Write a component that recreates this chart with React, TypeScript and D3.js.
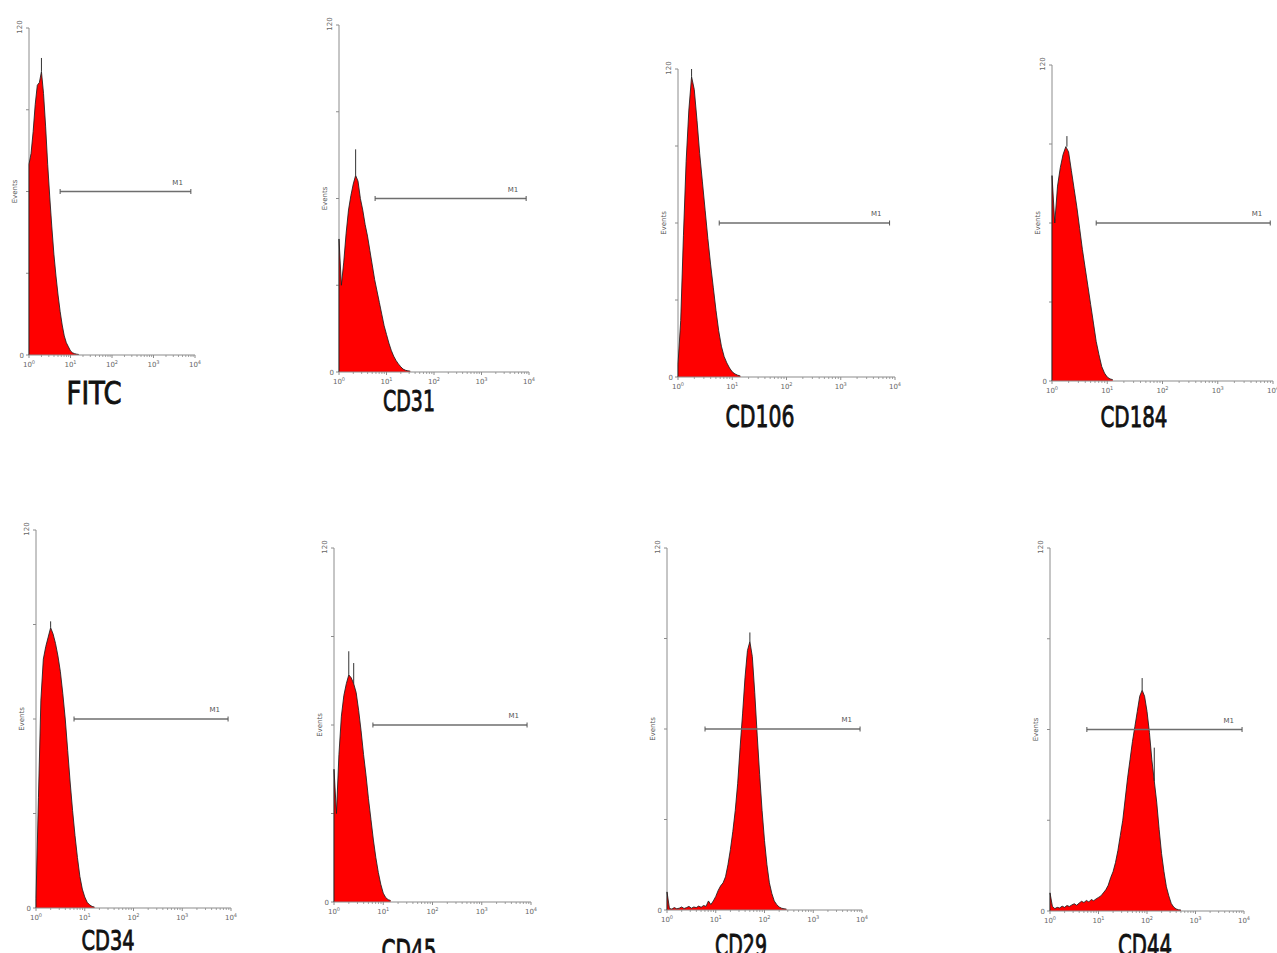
import React from 'react';
import * as d3 from 'd3';

// histogram channels: one bin every 0.05 decade, starting at 10^0
const BIN_STEP = 0.05;

const markers = ['FITC', 'CD31', 'CD106', 'CD184', 'CD34', 'CD45', 'CD29', 'CD44'];

const fitcCounts = [70, 74, 82, 92, 99, 100, 104, 96, 84, 70, 58, 47, 37, 29, 22, 16, 11, 7, 4.5, 3, 1.5, 0.8, 0.5, 0.3, 0.2];
const cd31Counts = [46, 30, 38, 48, 56, 61, 65, 68, 66, 60, 56, 51, 47, 42, 37, 32, 28, 24, 20, 16, 13, 10, 7.5, 5.5, 4, 2.8, 1.8, 1, 0.6, 0.4, 0.3];
const cd106Counts = [5, 22, 55, 84, 104, 117, 112, 100, 87, 76, 65, 54, 44, 35, 26, 18, 12, 8, 5.5, 3.5, 2, 1.2, 0.7, 0.4];
const cd184Counts = [78, 60, 74, 81, 86, 89, 87, 80, 73, 66, 58, 50, 43, 36, 29, 22, 15, 10, 5.5, 3, 1.5, 0.8, 0.5];
const cd34Counts = [3, 35, 66, 79, 83, 86, 89, 87, 84, 80, 75, 68, 60, 50, 40, 31, 23, 16, 10, 6, 3.5, 1.8, 1, 0.5, 0.3];
const cd45Counts = [45, 30, 50, 63, 70, 74, 77, 76, 74, 71, 65, 58, 50, 43, 35, 28, 21, 15, 10, 6, 3, 1.5, 0.8, 0.5];
const cd29Counts = [6, 0.5, 0.3, 0.8, 0.4, 0.6, 1, 0.5, 0.8, 1.2, 0.6, 1, 0.8, 1.3, 0.9, 1.5, 1.2, 3, 1.8, 3, 4.5, 6.5, 8, 9, 11, 15, 20, 26, 33, 42, 54, 65, 77, 86, 89, 84, 72, 58, 45, 33, 23, 15, 9, 5.5, 3, 1.8, 1, 0.6, 0.4, 0.3];
const cd44Counts = [6, 1.5, 0.8, 1.2, 1, 1.6, 1.2, 1.8, 1.5, 2, 2.4, 1.9, 2.6, 3.2, 2.8, 3.5, 3, 3.8, 3.4, 4, 4.5, 5, 6, 7, 8.5, 11, 13, 16, 20, 25, 30, 37, 44, 50, 56, 61, 66, 71, 73, 71, 66, 59, 50, 43, 36, 27, 19, 13, 8, 5, 2.5, 1.3, 0.7, 0.4, 0.3];

const countsByMarker = [fitcCounts, cd31Counts, cd106Counts, cd184Counts, cd34Counts, cd45Counts, cd29Counts, cd44Counts];

// thin spikes of the outline above the fill: [decade, events]
const peakSpikes = [
  [[0.3, 109]],
  [[0.35, 77]],
  [[0.25, 120]],
  [[0.27, 93]],
  [[0.3, 91]],
  [[0.3, 85], [0.4, 81]],
  [[1.7, 92]],
  [[1.9, 77], [2.15, 54]],
];

// M1 gate, in decades
const m1Start = [0.75, 0.76, 0.76, 0.8, 0.78, 0.79, 0.78, 0.76];
const m1End = [3.9, 3.94, 3.9, 3.95, 3.94, 3.92, 3.96, 3.96];
const M1_LEVEL = 60;

const yTicks = [0, 30, 60, 90, 120];
const xDecades = [1, 10, 100, 1000, 10000];
const xExponents = ['0', '1', '2', '3', '4'];

// page layout of each panel (pixels)
const panelBoxes = [
  { x0: 29, x1: 195, top: 28, bottom: 355 },
  { x0: 339, x1: 529, top: 25, bottom: 372 },
  { x0: 678, x1: 895, top: 69, bottom: 377 },
  { x0: 1052, x1: 1273, top: 65, bottom: 381 },
  { x0: 36, x1: 231, top: 530, bottom: 908 },
  { x0: 334, x1: 531, top: 548, bottom: 902 },
  { x0: 667, x1: 862, top: 548, bottom: 910 },
  { x0: 1050, x1: 1244, top: 548, bottom: 911 },
];

const labelBoxes = [
  { cx: 94, y: 404, w: 55, size: 32 },
  { cx: 409, y: 411, w: 52, size: 29 },
  { cx: 760, y: 427, w: 69, size: 31 },
  { cx: 1134, y: 427, w: 67, size: 29 },
  { cx: 108, y: 950, w: 53, size: 27 },
  { cx: 409, y: 961, w: 55, size: 30 },
  { cx: 741, y: 956, w: 52, size: 30 },
  { cx: 1145, y: 956, w: 54, size: 30 },
];

const axisGrey = '#8c8c8c';
const smallFont = 'DejaVu Sans, sans-serif';

function Histogram({ index }) {
  const box = panelBoxes[index];
  const counts = countsByMarker[index];
  const lab = labelBoxes[index];

  const x = d3.scaleLog().domain([1, 10000]).range([box.x0, box.x1]);
  const y = d3.scaleLinear().domain([0, 120]).range([box.bottom, box.top]);

  const pts = counts.map((v, i) => [Math.pow(10, i * BIN_STEP), v]);
  const area = d3.area().x(d => x(d[0])).y0(y(0)).y1(d => y(d[1]));
  const line = d3.line().x(d => x(d[0])).y(d => y(d[1]));
  const outline = [[1, 0], ...pts];

  const minor = [];
  xDecades.slice(0, 4).forEach(d => {
    for (let k = 2; k <= 9; k++) minor.push(d * k);
  });

  const m1y = y(M1_LEVEL);
  const m1x0 = x(Math.pow(10, m1Start[index]));
  const m1x1 = x(Math.pow(10, m1End[index]));

  return (
    <g>
      {/* y axis */}
      <line x1={box.x0} x2={box.x0} y1={box.top} y2={box.bottom} stroke={axisGrey} strokeWidth={1} />
      {yTicks.map(t => (
        <line key={t} x1={box.x0 - 3} x2={box.x0} y1={y(t)} y2={y(t)} stroke={axisGrey} strokeWidth={1} />
      ))}
      <text transform={`translate(${box.x0 - 7},${box.top - 1}) rotate(-90)`} textAnchor="middle"
        fontSize={7} fontFamily={smallFont} fill="#666">120</text>
      <text x={box.x0 - 5} y={box.bottom + 3} textAnchor="end" fontSize={7} fontFamily={smallFont} fill="#666">0</text>
      <text transform={`translate(${box.x0 - 12},${(box.top + box.bottom) / 2}) rotate(-90)`} textAnchor="middle"
        fontSize={7} fontFamily={smallFont} fill="#555">Events</text>

      {/* histogram */}
      <path d={area(pts)} fill="#ff0000" />
      <path d={line(outline)} fill="none" stroke="#1e1e1e" strokeWidth={1} strokeOpacity={0.85} />
      {peakSpikes[index].map(([dec, val]) => {
        const idx = Math.round(dec / BIN_STEP);
        const base = counts[idx] !== undefined ? counts[idx] : 0;
        const sx = x(Math.pow(10, dec));
        return <line key={dec} x1={sx} x2={sx} y1={y(base)} y2={y(val)} stroke="#333" strokeWidth={1} />;
      })}

      {/* x axis */}
      <line x1={box.x0} x2={box.x1} y1={box.bottom} y2={box.bottom} stroke={axisGrey} strokeWidth={1.2} />
      {minor.map(v => (
        <line key={v} x1={x(v)} x2={x(v)} y1={box.bottom} y2={box.bottom + 2} stroke={axisGrey} strokeWidth={0.8} />
      ))}
      {xDecades.map((d, i) => (
        <g key={d}>
          <line x1={x(d)} x2={x(d)} y1={box.bottom} y2={box.bottom + 3} stroke={axisGrey} strokeWidth={1} />
          <text x={x(d)} y={box.bottom + 12} textAnchor="middle" fontSize={7} fontFamily={smallFont} fill="#666">
            10<tspan dy={-3} fontSize={5}>{xExponents[i]}</tspan>
          </text>
        </g>
      ))}

      {/* M1 gate */}
      <line x1={m1x0} x2={m1x1} y1={m1y} y2={m1y} stroke="#6e6e6e" strokeWidth={1.5} />
      <line x1={m1x0} x2={m1x0} y1={m1y - 2.5} y2={m1y + 2.5} stroke="#555" strokeWidth={1} />
      <line x1={m1x1} x2={m1x1} y1={m1y - 2.5} y2={m1y + 2.5} stroke="#555" strokeWidth={1} />
      <text x={m1x1 - 8} y={m1y - 7} textAnchor="end" fontSize={7} fontFamily={smallFont} fill="#555">M1</text>

      {/* marker name: regular weight thickened a little with a stroke */}
      <text x={lab.cx} y={lab.y} textAnchor="middle" fontSize={lab.size}
        fontFamily="DejaVu Sans, sans-serif" fill="#111" stroke="#111" strokeWidth={0.9}
        textLength={lab.w} lengthAdjust="spacingAndGlyphs">{markers[index]}</text>
    </g>
  );
}

export default function App() {
  return (
    <div style={{ position: 'absolute', left: 0, top: 0 }}>
      <svg width={1277} height={953} style={{ display: 'block', background: '#fff' }}>
        {markers.map((m, i) => (
          <Histogram key={m} index={i} />
        ))}
      </svg>
    </div>
  );
}
